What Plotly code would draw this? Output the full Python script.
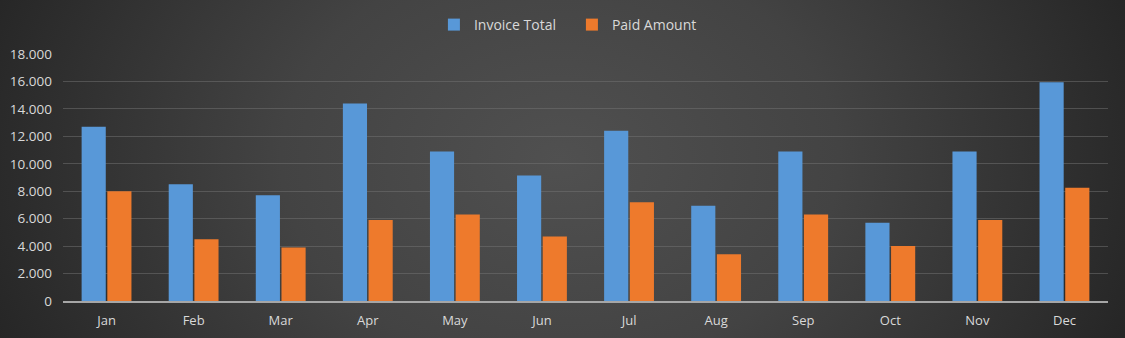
import base64
import plotly.graph_objects as go

months = ["Jan", "Feb", "Mar", "Apr", "May", "Jun", "Jul", "Aug", "Sep", "Oct", "Nov", "Dec"]
invoice_total = [12700, 8500, 7700, 14400, 10900, 9150, 12400, 6950, 10900, 5700, 10900, 15950]
paid_amount = [8000, 4500, 3900, 5900, 6300, 4700, 7200, 3400, 6300, 4000, 5900, 8250]
y_ticks = [0, 2000, 4000, 6000, 8000, 10000, 12000, 14000, 16000, 18000]

W, H = 1125, 338
ML, MR, MT, MB = 63, 17, 54, 37
PW, PH = W - ML - MR, H - MT - MB
PAD = 30

svg = f'''<svg xmlns="http://www.w3.org/2000/svg" width="{W + 2 * PAD}" height="{H + 2 * PAD}" viewBox="{-PAD} {-PAD} {W + 2 * PAD} {H + 2 * PAD}" preserveAspectRatio="none">
<defs><radialGradient id="g" gradientUnits="userSpaceOnUse" cx="560" cy="160" r="620" gradientTransform="translate(560 160) scale(1 0.75) translate(-560 -160)">
<stop offset="0" stop-color="#505050"/><stop offset="0.45" stop-color="#434343"/><stop offset="1" stop-color="#252525"/></radialGradient></defs>
<rect x="{-PAD}" y="{-PAD}" width="{W + 2 * PAD}" height="{H + 2 * PAD}" fill="url(#g)"/></svg>'''
bg_uri = "data:image/svg+xml;base64," + base64.b64encode(svg.encode()).decode()

font_family = "Open Sans, Noto Sans, sans-serif"
fig = go.Figure()
fig.add_trace(go.Bar(name="Invoice Total", x=months, y=invoice_total,
                     marker=dict(color="#5898d8", line=dict(width=0))))
fig.add_trace(go.Bar(name="Paid Amount", x=months, y=paid_amount,
                     marker=dict(color="#ee7a2c", line=dict(width=0))))

fig.update_layout(
    width=W, height=H,
    margin=dict(l=ML, r=MR, t=MT, b=MB, pad=0, autoexpand=False),
    paper_bgcolor="#2a2a2a",
    plot_bgcolor="rgba(0,0,0,0)",
    separators=",.",
    barmode="group",
    bargap=0.41,
    bargroupgap=0.06,
    font=dict(family=font_family, size=13, color="#d9d9d9"),
    showlegend=True,
    legend=dict(orientation="h", x=0.487, xanchor="center", y=1 + 29 / PH, yanchor="middle",
                font=dict(size=14, color="#d9d9d9"), bgcolor="rgba(0,0,0,0)",
                itemwidth=30, traceorder="normal", entrywidth=93, entrywidthmode="pixels"),
    images=[dict(source=bg_uri, xref="paper", yref="paper",
                 x=-(ML + PAD) / PW, y=1 + (MT + PAD) / PH,
                 sizex=(W + 2 * PAD) / PW, sizey=(H + 2 * PAD) / PH,
                 xanchor="left", yanchor="top", sizing="stretch", layer="below")],
    xaxis=dict(showgrid=False, showline=True, linecolor="#a6a6a6", linewidth=2,
               ticks="", ticklabelstandoff=6, tickfont=dict(size=13, color="#d9d9d9"),
               zeroline=False, automargin=False),
    yaxis=dict(range=[0, 18000], tickvals=y_ticks, tickformat=",d",
               showgrid=True, gridcolor="rgba(115,115,115,0.5)", gridwidth=1,
               showline=False, zeroline=False, ticks="", ticklabelstandoff=10,
               tickfont=dict(size=13.5, color="#d9d9d9"), automargin=False),
)

fig.write_html("out.html")
